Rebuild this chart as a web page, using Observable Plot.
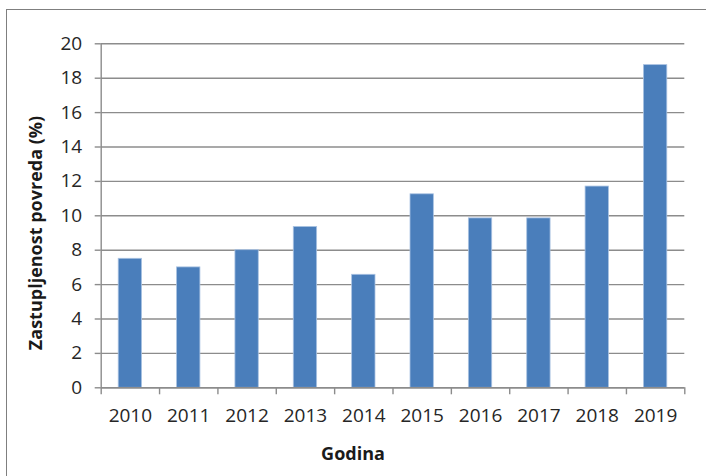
<!DOCTYPE html>
<html>
<head>
<meta charset="utf-8">
<script src="https://cdn.jsdelivr.net/npm/d3@7"></script>
<script src="https://cdn.jsdelivr.net/npm/@observablehq/plot@0.6"></script>
<style>
  html, body { margin: 0; padding: 0; background: #fff; overflow: hidden; }
  #wrap { position: relative; width: 706px; height: 476px; overflow: hidden; }
  #border { position: absolute; left: 6px; top: 9px; width: 760px; height: 520px;
            border: 1.5px solid #7f7f7f; box-sizing: border-box; }
  #chart { position: absolute; left: 0; top: 0; }
</style>
</head>
<body>
<div id="wrap"><div id="border"></div><div id="chart"></div></div>
<script>
const years = [2010, 2011, 2012, 2013, 2014, 2015, 2016, 2017, 2018, 2019];
const values = [7.5, 7.0, 8.0, 9.35, 6.57, 11.25, 9.85, 9.85, 11.7, 18.76];
const yTicks = [0, 2, 4, 6, 8, 10, 12, 14, 16, 18, 20];
const yLabel = "Zastupljenost povreda (%)";
const xLabel = "Godina";

const data = years.map((year, i) => ({year, value: values[i]}));
const boundaries = years.map(y => y - 0.5).concat([years[years.length - 1] + 0.5]);

const grey = "#8c8c8c";

const chart = Plot.plot({
  width: 706,
  height: 476,
  marginLeft: 100.7,
  marginRight: 21.7,
  marginTop: 43.3,
  marginBottom: 88.7,
  style: {fontFamily: "'Open Sans', sans-serif", fontSize: "19px", color: "#262626", background: "transparent"},
  x: {domain: [boundaries[0], boundaries[boundaries.length - 1]]},
  y: {domain: [0, 20]},
  marks: [
    Plot.gridY(yTicks, {stroke: grey, strokeOpacity: 1, strokeWidth: 1.4}),
    Plot.axisY(yTicks, {tickSize: 6, tickPadding: 13, stroke: grey, strokeWidth: 1.4, label: null, fontSize: 19, tickFormat: d => String(d)}),
    Plot.axisX(boundaries, {tickSize: 7, tickFormat: () => "", stroke: grey, strokeWidth: 1.4, label: null}),
    Plot.axisX(years, {tickSize: 0, tickPadding: 21, tickFormat: d => String(d), label: null, fontSize: 19}),
    Plot.rectY(data, {x1: d => d.year - 0.2, x2: d => d.year + 0.2, y: "value", fill: "#4a7ebb", stroke: "#a9c2e2", strokeWidth: 0.8}),
    Plot.ruleX([boundaries[0]], {stroke: grey, strokeWidth: 1.4}),
    Plot.ruleY([0], {stroke: grey, strokeWidth: 1.4})
  ]
});

const svg = d3.select(chart);
svg.append("text")
  .attr("transform", "translate(42,233) rotate(-90)")
  .attr("text-anchor", "middle")
  .attr("font-family", "'Open Sans', sans-serif")
  .attr("font-weight", "bold")
  .attr("font-size", 18)
  .attr("fill", "#1a1a1a")
  .text(yLabel);
svg.append("text")
  .attr("x", 353)
  .attr("y", 460)
  .attr("text-anchor", "middle")
  .attr("font-family", "'Open Sans', sans-serif")
  .attr("font-weight", "bold")
  .attr("font-size", 18)
  .attr("fill", "#1a1a1a")
  .text(xLabel);

document.getElementById("chart").appendChild(chart);
</script>
</body>
</html>
